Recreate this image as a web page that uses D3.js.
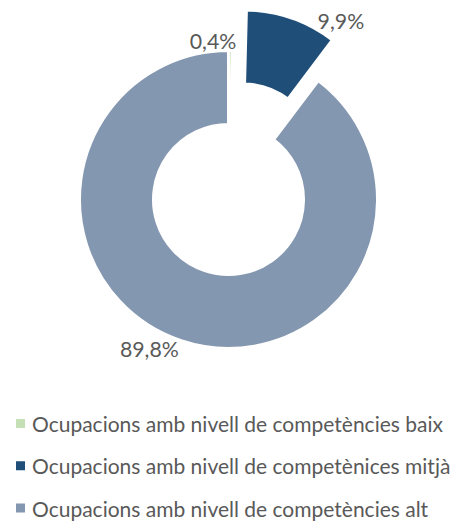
<!DOCTYPE html>
<html>
<head>
<meta charset="utf-8">
<script src="https://cdn.jsdelivr.net/npm/d3@7"></script>
<style>
  body { margin: 0; background: #fff; }
  svg { display: block; }
</style>
</head>
<body>
<div id="chart"></div>
<script>
// Chart data
const categories = [
  'Ocupacions amb nivell de competències baix',
  'Ocupacions amb nivell de competènices mitjà',
  'Ocupacions amb nivell de competències alt'
];
const values = [0.4, 9.9, 89.8];
const valueLabels = ['0,4%', '9,9%', '89,8%'];
const sliceColors = ['#c5e0b4', '#1f4e79', '#8497b0'];

const width = 453;
const height = 521;
const cx = 228.5, cy = 199.5;
const borderW = 3;
// radii include half the white border so the visible ring matches
const outerR = 147.5 + borderW / 2, innerR = 76.5 - borderW / 2;
const explodedIndex = 1;
const explodeDist = 43;
const textColor = '#595959';
const fontFamily = 'Lato, "Open Sans", sans-serif';

// label placement tweaks (degrees off the slice middle, radius)
const labelNudge = [
  { a: -6.3, r: 159 },
  { a: 16.3, r: 169 },
  { a: 9.4, r: 169 }
];

const svg = d3.select('#chart')
  .append('svg')
  .attr('width', width)
  .attr('height', height)
  .attr('viewBox', [0, 0, width, height]);

const pie = d3.pie()
  .sort(null)
  .value(d => d)
  .startAngle(0)
  .endAngle(2 * Math.PI);

const arcs = pie(values);

const arc = d3.arc()
  .innerRadius(innerR)
  .outerRadius(outerR);

function sliceOffset(d, i) {
  if (i !== explodedIndex) return [0, 0];
  const mid = (d.startAngle + d.endAngle) / 2;
  return [explodeDist * Math.sin(mid), -explodeDist * Math.cos(mid)];
}

const g = svg.append('g')
  .attr('transform', `translate(${cx},${cy})`);

g.selectAll('path')
  .data(arcs)
  .enter().append('path')
  .attr('d', arc)
  .attr('fill', (d, i) => sliceColors[i])
  .attr('stroke', '#fff')
  .attr('stroke-width', borderW)
  .attr('transform', (d, i) => {
    const [dx, dy] = sliceOffset(d, i);
    return `translate(${dx},${dy})`;
  });

// Value labels
const labels = g.selectAll('text.value')
  .data(arcs)
  .enter().append('text')
  .attr('class', 'value')
  .attr('text-anchor', 'middle')
  .attr('dominant-baseline', 'central')
  .attr('font-family', fontFamily)
  .attr('font-size', 22)
  .attr('fill', textColor)
  .text((d, i) => valueLabels[i])
  .attr('x', (d, i) => {
    const [dx] = sliceOffset(d, i);
    const a = (d.startAngle + d.endAngle) / 2 + labelNudge[i].a * Math.PI / 180;
    return dx + labelNudge[i].r * Math.sin(a);
  })
  .attr('y', (d, i) => {
    const [, dy] = sliceOffset(d, i);
    const a = (d.startAngle + d.endAngle) / 2 + labelNudge[i].a * Math.PI / 180;
    return dy - labelNudge[i].r * Math.cos(a);
  });

// fit label size to the reference width of "89,8%" (~59px)
const lw = labels.filter((d, i) => i === 2).node().getComputedTextLength();
labels.attr('font-size', 22 * 59 / lw);

// Legend
const legendY = d3.scalePoint()
  .domain(categories)
  .range([423.5, 508]);

const legend = svg.append('g')
  .selectAll('g')
  .data(categories)
  .enter().append('g')
  .attr('transform', d => `translate(0,${legendY(d)})`);

legend.append('rect')
  .attr('x', 16)
  .attr('y', -4.5)
  .attr('width', 9)
  .attr('height', 9)
  .attr('fill', (d, i) => sliceColors[i]);

const legendText = legend.append('text')
  .attr('x', 32)
  .attr('dominant-baseline', 'central')
  .attr('font-family', fontFamily)
  .attr('font-size', 20)
  .attr('fill', textColor)
  .text(d => d);

// fit legend size to the reference width of the first entry (~411px)
const tw = legendText.filter((d, i) => i === 0).node().getComputedTextLength();
legendText.attr('font-size', 20 * 411 / tw);
</script>
</body>
</html>
